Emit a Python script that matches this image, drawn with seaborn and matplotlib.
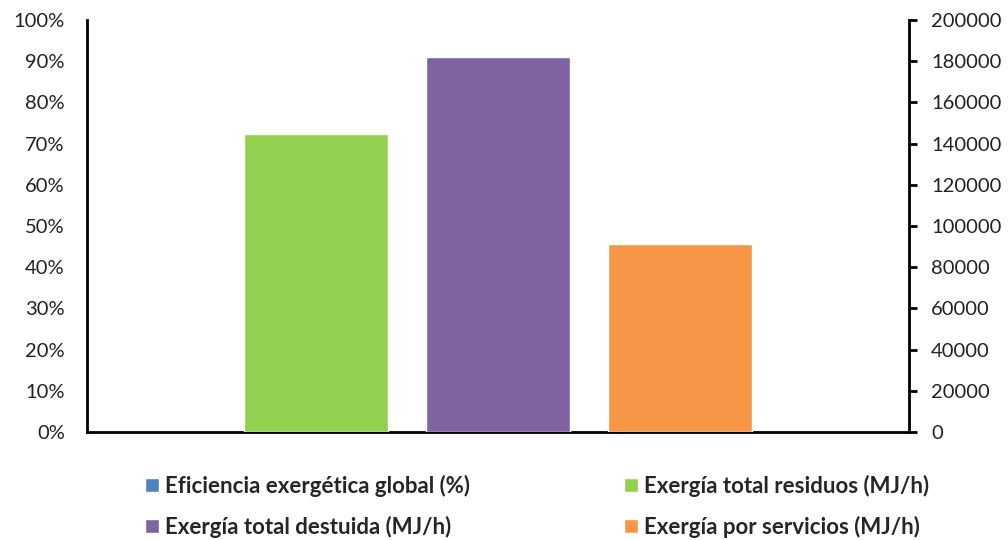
import matplotlib
matplotlib.use("Agg")
import matplotlib.pyplot as plt
import seaborn as sns
import pandas as pd
from matplotlib.patches import Patch

# ---- data ----
category = ["Sistema"]
efficiency_label = "Eficiencia exergética global (%)"
efficiency_values = [0.0]
secondary_labels = ["Exergía total residuos (MJ/h)",
                    "Exergía total destuida (MJ/h)",
                    "Exergía por servicios (MJ/h)"]
secondary_values = [144500, 182000, 91100]
left_ticks = [0, 10, 20, 30, 40, 50, 60, 70, 80, 90, 100]
right_ticks = [0, 20000, 40000, 60000, 80000, 100000, 120000, 140000, 160000, 180000, 200000]

blue = "#4F81BD"
green = "#92D050"
purple = "#8064A2"
orange = "#F79646"

sns.set_theme(style="white")
plt.rcParams["font.family"] = ["Lato", "DejaVu Sans"]

fig = plt.figure(figsize=(10.08, 5.4), dpi=100)
ax = fig.add_axes([87 / 1008, 108 / 540, 822 / 1008, 412 / 540])
ax2 = ax.twinx()

df1 = pd.DataFrame({"cat": category, "serie": [efficiency_label], "valor": efficiency_values})
sns.barplot(data=df1, x="cat", y="valor", hue="serie", palette=[blue],
            width=0.8, saturation=1, ax=ax, legend=False)

df2 = pd.DataFrame({"cat": category * len(secondary_labels),
                    "serie": secondary_labels,
                    "valor": secondary_values})
sns.barplot(data=df2, x="cat", y="valor", hue="serie", hue_order=secondary_labels,
            palette=[green, purple, orange], width=0.8, gap=0.21, saturation=1,
            ax=ax2, legend=False)

ax.set_xlim(-0.6022, 0.6022)
ax.set_ylim(0, 100)
ax2.set_ylim(0, 200000)

ax.set_yticks(left_ticks)
ax.set_yticklabels([f"{v}%" for v in left_ticks])
ax2.set_yticks(right_ticks)
ax2.set_yticklabels([str(v) for v in right_ticks])
ax.set_xticks([])
ax2.set_xticks([])
for a in (ax, ax2):
    a.set_xlabel("")
    a.set_ylabel("")
    a.grid(False)
    for s in a.spines.values():
        s.set_visible(False)

ax.spines["left"].set_visible(True)
ax.spines["bottom"].set_visible(True)
ax2.spines["right"].set_visible(True)
for s in (ax.spines["left"], ax.spines["bottom"], ax2.spines["right"]):
    s.set_color("black")
    s.set_linewidth(2)

ax.tick_params(axis="y", left=False, length=0, pad=16, labelsize=14.5, labelcolor="#222222")
ax2.tick_params(axis="y", right=True, direction="out", length=6, width=2, color="black",
                pad=10, labelsize=14.5, labelcolor="#222222")

legend_kw = dict(frameon=False, handlelength=0.62, handleheight=0.62,
                 handletextpad=0.3, labelspacing=0.85, borderaxespad=0, borderpad=0,
                 prop={"weight": "bold", "size": 16})
h1 = [Patch(facecolor=blue, label=efficiency_label),
      Patch(facecolor=purple, label=secondary_labels[1])]
h2 = [Patch(facecolor=green, label=secondary_labels[0]),
      Patch(facecolor=orange, label=secondary_labels[2])]
fig.legend(handles=h1, loc="upper left", bbox_to_anchor=(145 / 1008, 1 - 475 / 540), **legend_kw)
fig.legend(handles=h2, loc="upper left", bbox_to_anchor=(624 / 1008, 1 - 475 / 540), **legend_kw)

fig.savefig("out.png", dpi=100)
